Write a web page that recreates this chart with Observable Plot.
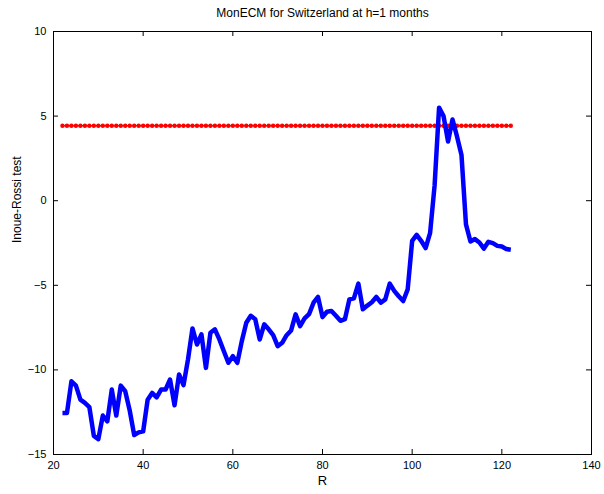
<!DOCTYPE html>
<html>
<head>
<meta charset="utf-8">
<script src="https://cdn.jsdelivr.net/npm/d3@7"></script>
<script src="https://cdn.jsdelivr.net/npm/@observablehq/plot@0.6"></script>
<style>
  html, body { margin: 0; padding: 0; background: #fff; }
  #chart svg { display: block; }
</style>
</head>
<body>
<div id="chart"></div>
<script>
const title = "MonECM for Switzerland at h=1 months";
const xLabel = "R";
const yLabel = "Inoue-Rossi test";
const xTicks = [20, 40, 60, 80, 100, 120, 140];
const yTicks = [-15, -10, -5, 0, 5, 10];

const R = [22,23,24,25,26,27,28,29,30,31,32,33,34,35,36,37,38,39,40,41,
  42,43,44,45,46,47,48,49,50,51,52,53,54,55,56,57,58,59,60,61,
  62,63,64,65,66,67,68,69,70,71,72,73,74,75,76,77,78,79,80,81,
  82,83,84,85,86,87,88,89,90,91,92,93,94,95,96,97,98,99,100,101,
  102,103,104,105,106,107,108,109,110,111,112,113,114,115,116,117,118,119,120,121,122];

const testStat = [-12.55,-12.55,-10.67,-10.93,-11.76,-11.95,-12.2,-13.9,-14.09,-12.7,
  -13.04,-11.16,-12.7,-10.93,-11.26,-12.4,-13.85,-13.69,-13.63,-11.76,
  -11.36,-11.62,-11.16,-11.16,-10.57,-12.09,-10.27,-10.9,-9.38,-7.55,
  -8.5,-7.9,-9.88,-7.8,-7.6,-8.2,-8.9,-9.58,-9.19,-9.58,
  -8.3,-7.21,-6.8,-7.01,-8.2,-7.31,-7.6,-7.94,-8.6,-8.4,
  -7.95,-7.67,-6.72,-7.41,-6.96,-6.7,-6.03,-5.69,-6.88,-6.56,
  -6.52,-6.8,-7.1,-7.0,-5.83,-5.77,-4.9,-6.42,-6.2,-6.0,
  -5.69,-6.03,-5.83,-4.9,-5.33,-5.65,-5.93,-5.24,-2.37,-2.02,
  -2.37,-2.8,-1.9,0.89,5.5,5.0,3.5,4.8,3.8,2.7,
  -1.4,-2.41,-2.27,-2.47,-2.83,-2.43,-2.51,-2.67,-2.71,-2.86,-2.9];

const criticalValue = 4.43;

const series = R.map((r, i) => ({R: r, stat: testStat[i], cv: criticalValue}));

const W = 604, H = 494;
const mL = 53, mR = 13, mT = 31, mB = 40;
const innerH = H - mT - mB;
const innerW = W - mL - mR;
const font = "Liberation Sans, Arial, Helvetica, sans-serif";

const chart = Plot.plot({
  width: W,
  height: H,
  marginLeft: mL,
  marginRight: mR,
  marginTop: mT,
  marginBottom: mB,
  style: {fontFamily: font, fontSize: "11px", background: "#fff", color: "#000"},
  x: {domain: [20, 140]},
  y: {domain: [-15, 10]},
  marks: [
    Plot.frame({stroke: "#000", strokeWidth: 1}),
    // tick labels
    Plot.axisX(xTicks, {anchor: "bottom", tickSize: 0, tickPadding: 7, fontSize: 11, label: null}),
    Plot.axisY(yTicks, {anchor: "left", tickSize: 0, tickPadding: 7, fontSize: 11, label: null}),
    // inward ticks on all four sides
    Plot.tickX(xTicks, {x: d => d, insetTop: innerH - 5, stroke: "#000"}),
    Plot.tickX(xTicks, {x: d => d, insetBottom: innerH - 5, stroke: "#000"}),
    Plot.tickY(yTicks, {y: d => d, insetRight: innerW - 5, stroke: "#000"}),
    Plot.tickY(yTicks, {y: d => d, insetLeft: innerW - 5, stroke: "#000"}),
    // critical value line
    Plot.line(series, {x: "R", y: "cv", stroke: "#ff0000", strokeWidth: 1.5}),
    Plot.dot(series, {x: "R", y: "cv", r: 2.2, fill: "#ff0000", stroke: "none"}),
    // test statistic
    Plot.line(series, {x: "R", y: "stat", stroke: "#0000ff", strokeWidth: 4.5, strokeLinejoin: "round", strokeLinecap: "butt"}),
    // title and axis labels
    Plot.text([title], {frameAnchor: "top", dy: -18, text: d => d, fontSize: 12, lineAnchor: "middle"}),
    Plot.text([xLabel], {frameAnchor: "bottom", dy: 26, text: d => d, fontSize: 13, lineAnchor: "middle"}),
    Plot.text([yLabel], {frameAnchor: "left", dx: -36, text: d => d, fontSize: 12, rotate: -90, lineAnchor: "middle"})
  ]
});

document.getElementById("chart").appendChild(chart);
</script>
</body>
</html>
